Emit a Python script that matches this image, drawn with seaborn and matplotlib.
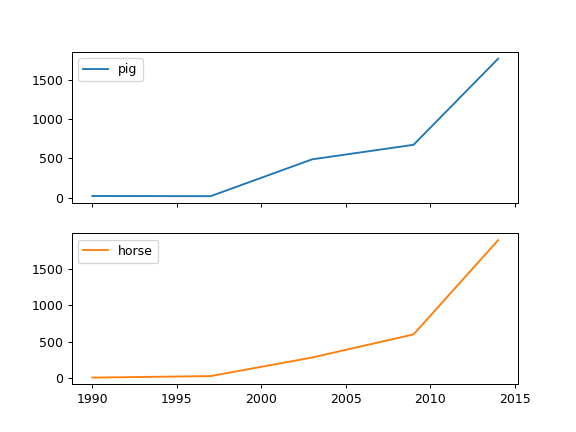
import matplotlib
matplotlib.use("Agg")
import matplotlib.pyplot as plt
import pandas as pd
import seaborn as sns

years = [1990, 1997, 2003, 2009, 2014]
pig = [20, 18, 489, 675, 1776]
horse = [4, 25, 281, 600, 1900]

df = pd.DataFrame({"year": years, "pig": pig, "horse": horse})

fig, axes = plt.subplots(2, 1, sharex=True, figsize=(6.4, 4.8), dpi=90)
for ax, name, color in [(axes[0], "pig", "C0"), (axes[1], "horse", "C1")]:
    sns.lineplot(data=df, x="year", y=name, ax=ax, color=color, label=name)
    ax.set_xlabel("")
    ax.set_ylabel("")
    ax.legend(loc="upper left")

fig.savefig("out.png", dpi=90)
